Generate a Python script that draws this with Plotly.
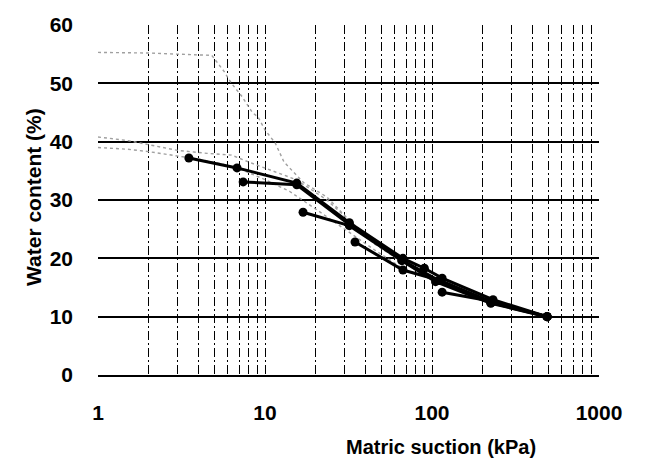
import plotly.graph_objects as go

# Black measured series (matric suction kPa, water content %)
suction_a = [3.5, 6.8, 15.5, 32, 67, 90, 115, 232, 489]
water_a = [37.2, 35.5, 32.9, 26.1, 20.0, 18.3, 16.6, 12.9, 10.0]
suction_b = [7.4, 15.5, 32, 66, 110, 225, 489]
water_b = [33.1, 32.6, 25.8, 19.7, 16.2, 12.6, 10.0]
suction_c = [16.9, 32, 66, 105, 225, 489]
water_c = [27.9, 25.6, 19.6, 16.0, 12.3, 10.0]
suction_d = [34.6, 67, 112, 225, 489]
water_d = [22.8, 18.0, 16.2, 12.4, 10.0]
suction_e = [115, 232, 489]
water_e = [14.2, 12.6, 10.0]

# Grey dotted curves
suction_g1 = [1, 2, 3, 4.8, 5.7, 6.3, 7.3, 8.4, 9.1, 10, 11.5, 13, 17, 23.5, 32, 45, 65]
water_g1 = [55.3, 55.2, 55.0, 54.8, 52.0, 50.0, 47.7, 45.0, 44.2, 42.0, 39.8, 36.5, 33.0, 30.5, 26.5, 22.5, 19.5]
suction_g2 = [1, 1.5, 2, 3, 4.5, 6.3, 8, 11, 15, 18, 23.5, 32, 45, 65]
water_g2 = [40.8, 40.2, 39.5, 38.5, 38.0, 37.7, 36.5, 35.0, 33.6, 32.2, 30.0, 26.5, 22.8, 19.5]
suction_g3 = [1, 1.5, 2, 3, 4, 5.5, 7.5, 10, 14, 20, 30, 45, 65]
water_g3 = [39.0, 38.7, 38.3, 37.6, 37.0, 36.2, 35.0, 33.5, 31.5, 28.5, 25.0, 21.5, 18.5]

x_tickvals = [1, 10, 100, 1000]
x_ticktext = ["1", "10", "100", "1000"]
y_tickvals = [0, 10, 20, 30, 40, 50, 60]

FONT = "Liberation Sans, Arial, sans-serif"

fig = go.Figure()

for sx, wy in [(suction_g1, water_g1), (suction_g2, water_g2), (suction_g3, water_g3)]:
    fig.add_trace(go.Scatter(x=sx, y=wy, mode="lines",
                             line=dict(color="#a0a0a0", width=1.4, dash="dot"),
                             showlegend=False, hoverinfo="skip"))

for sx, wy in [(suction_a, water_a), (suction_b, water_b), (suction_c, water_c),
               (suction_d, water_d), (suction_e, water_e)]:
    fig.add_trace(go.Scatter(x=sx, y=wy, mode="lines+markers",
                             line=dict(color="black", width=3),
                             marker=dict(color="black", size=9),
                             showlegend=False))

GRID_DASH = "9px,3px,2px,3px"

fig.update_layout(
    width=645, height=468,
    margin=dict(l=98, r=46, t=25, b=93),
    paper_bgcolor="white", plot_bgcolor="white",
    font=dict(family=FONT, color="black"),
    xaxis=dict(
        type="log", range=[0, 3],
        tickvals=x_tickvals, ticktext=x_ticktext,
        tickfont=dict(size=21, family=FONT, weight="bold"),
        showgrid=True, gridcolor="black", gridwidth=1.2, griddash=GRID_DASH,
        minor=dict(dtick="D1", showgrid=True, gridcolor="black", gridwidth=1.2,
                   griddash=GRID_DASH),
        showline=True, linecolor="black", linewidth=2,
        ticks="", ticklabelstandoff=18,
        zeroline=False,
    ),
    yaxis=dict(
        range=[0, 60], tickvals=y_tickvals,
        tickfont=dict(size=21, family=FONT, weight="bold"),
        showgrid=True, gridcolor="black", gridwidth=2,
        showline=False, zeroline=False,
        ticks="", ticklabelstandoff=24,
    ),
    annotations=[
        dict(text="Matric suction (kPa)", xref="paper", yref="paper",
             x=(441 - 98) / (599 - 98), y=-(447 - 375) / 350,
             showarrow=False, xanchor="center", yanchor="middle",
             font=dict(size=20, family=FONT, weight="bold")),
        dict(text="Water content (%)", xref="paper", yref="paper",
             x=-(98 - 33) / (599 - 98), y=(375 - 197) / 350,
             showarrow=False, xanchor="center", yanchor="middle", textangle=-90,
             font=dict(size=21, family=FONT, weight="bold")),
    ],
)

fig.write_html("out.html")
